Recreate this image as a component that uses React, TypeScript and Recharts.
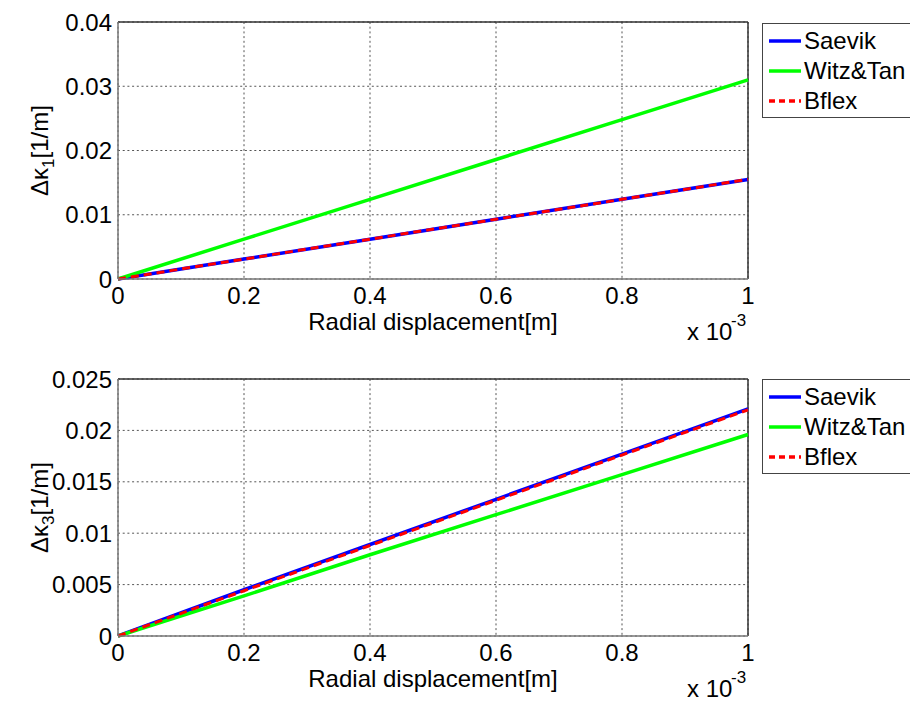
import { LineChart, Line, XAxis, YAxis, CartesianGrid, ReferenceLine } from "recharts";

// radial displacement, in units of 1e-3 m
const disp = [0, 0.2, 0.4, 0.6, 0.8, 1];

// top panel: delta kappa_1 [1/m]
const k1Saevik = [0, 0.0031, 0.0062, 0.0093, 0.0124, 0.0155];
const k1Witz = [0, 0.0062, 0.0124, 0.0186, 0.0248, 0.031];
const k1Bflex = [0, 0.0031, 0.0062, 0.0093, 0.0124, 0.0155];

// bottom panel: delta kappa_3 [1/m]
const k3Saevik = [0, 0.0045, 0.0089, 0.0133, 0.0177, 0.0221];
const k3Witz = [0, 0.0039, 0.0079, 0.0118, 0.0157, 0.0196];
const k3Bflex = [0, 0.0044, 0.0088, 0.0132, 0.0176, 0.022];

const xTicks = [0, 0.2, 0.4, 0.6, 0.8, 1];
const k1Ticks = [0, 0.01, 0.02, 0.03, 0.04];
const k3Ticks = [0, 0.005, 0.01, 0.015, 0.02, 0.025];

const seriesNames = ["Saevik", "Witz&Tan", "Bflex"];

const FONT = "'Liberation Sans', Arial, sans-serif";
const FS = 24;

const toRows = (a: number[], b: number[], c: number[]) =>
  disp.map((x, i) => ({ x, saevik: a[i], witz: b[i], bflex: c[i] }));

const legendItems = [
  { name: seriesNames[0], color: "#0000ff", dash: undefined },
  { name: seriesNames[1], color: "#00ff00", dash: undefined },
  { name: seriesNames[2], color: "#ff0000", dash: "6 4" },
];

function LegendBox({ top }: { top: number }) {
  return (
    <div
      style={{
        position: "absolute",
        left: 762,
        top,
        width: 170,
        height: 95,
        border: "1.5px solid #444",
        background: "#fff",
        boxSizing: "border-box",
        paddingTop: 2,
        fontFamily: FONT,
        fontSize: FS,
      }}
    >
      {legendItems.map((it) => (
        <div key={it.name} style={{ display: "flex", alignItems: "center", height: 30 }}>
          <svg width={40} height={10} style={{ marginLeft: 5 }}>
            <line x1={1} y1={5} x2={33} y2={5} stroke={it.color} strokeWidth={3.5} strokeDasharray={it.dash} />
          </svg>
          <span style={{ marginLeft: -4, lineHeight: "30px" }}>{it.name}</span>
        </div>
      ))}
    </div>
  );
}

function XLabel(props: any) {
  const vb = props.viewBox;
  const cx = vb.x + vb.width / 2;
  return (
    <g fontFamily={FONT}>
      <text x={cx} y={vb.y + 51} textAnchor="middle" fontSize={FS} fill="#000">
        Radial displacement[m]
      </text>
      <text x={687} y={vb.y + 61} fontSize={FS} fill="#000">
        x 10
      </text>
      <text x={731} y={vb.y + 47} fontSize={17} fill="#000">
        -3
      </text>
    </g>
  );
}

function YLabel(sub: string) {
  return (props: any) => {
    const vb = props.viewBox;
    const cy = vb.y + vb.height / 2;
    const x = 48;
    return (
      <text
        x={x}
        y={cy}
        textAnchor="middle"
        fontFamily={FONT}
        fontSize={FS}
        fill="#000"
        transform={`rotate(-90 ${x} ${cy})`}
      >
        {"\u0394\u03ba"}
        <tspan fontSize={17} dy={6}>{sub}</tspan>
        <tspan dy={-6}>[1/m]</tspan>
      </text>
    );
  };
}

function Panel(props: {
  rows: any[];
  ticks: number[];
  yMax: number;
  sub: string;
  height: number;
  top: number;
  xAxisHeight: number;
}) {
  const { rows, ticks, yMax, sub, height, top, xAxisHeight } = props;
  const tickStyle = { fontSize: FS, fontFamily: FONT, fill: "#000" };
  return (
    <LineChart width={910} height={height} data={rows} margin={{ top, right: 162, left: 0, bottom: 0 }}>
      <CartesianGrid stroke="#555" strokeDasharray="2 2.7" />
      <XAxis
        dataKey="x"
        type="number"
        domain={[0, 1]}
        ticks={xTicks}
        height={xAxisHeight}
        tickSize={0}
        tickMargin={8}
        tick={tickStyle}
        stroke="#777"
        strokeWidth={1.5}
        label={<XLabel />}
      />
      <YAxis
        type="number"
        domain={[0, yMax]}
        ticks={ticks}
        width={118}
        tickSize={0}
        tickMargin={6}
        tick={tickStyle}
        stroke="#777"
        strokeWidth={1.5}
        label={YLabel(sub)}
      />
      <ReferenceLine y={yMax} stroke="#333" strokeWidth={1.5} />
      <ReferenceLine x={1} stroke="#333" strokeWidth={1.5} />
      <Line dataKey="saevik" name={seriesNames[0]} stroke="#0000ff" strokeWidth={3.5} dot={false} isAnimationActive={false} />
      <Line dataKey="witz" name={seriesNames[1]} stroke="#00ff00" strokeWidth={3.5} dot={false} isAnimationActive={false} />
      <Line
        dataKey="bflex"
        name={seriesNames[2]}
        stroke="#ff0000"
        strokeWidth={3}
        strokeDasharray="8 5"
        dot={false}
        isAnimationActive={false}
      />
    </LineChart>
  );
}

export default function App() {
  return (
    <div style={{ position: "absolute", left: 0, top: 0, width: 910, height: 701, overflow: "hidden", background: "#fff" }}>
      <div style={{ position: "absolute", left: 0, top: 0 }}>
        <Panel rows={toRows(k1Saevik, k1Witz, k1Bflex)} ticks={k1Ticks} yMax={0.04} sub="1" height={350} top={22} xAxisHeight={71} />
        <LegendBox top={23} />
      </div>
      <div style={{ position: "absolute", left: 0, top: 350 }}>
        <Panel rows={toRows(k3Saevik, k3Witz, k3Bflex)} ticks={k3Ticks} yMax={0.025} sub="3" height={351} top={29} xAxisHeight={65} />
        <LegendBox top={29} />
      </div>
    </div>
  );
}
